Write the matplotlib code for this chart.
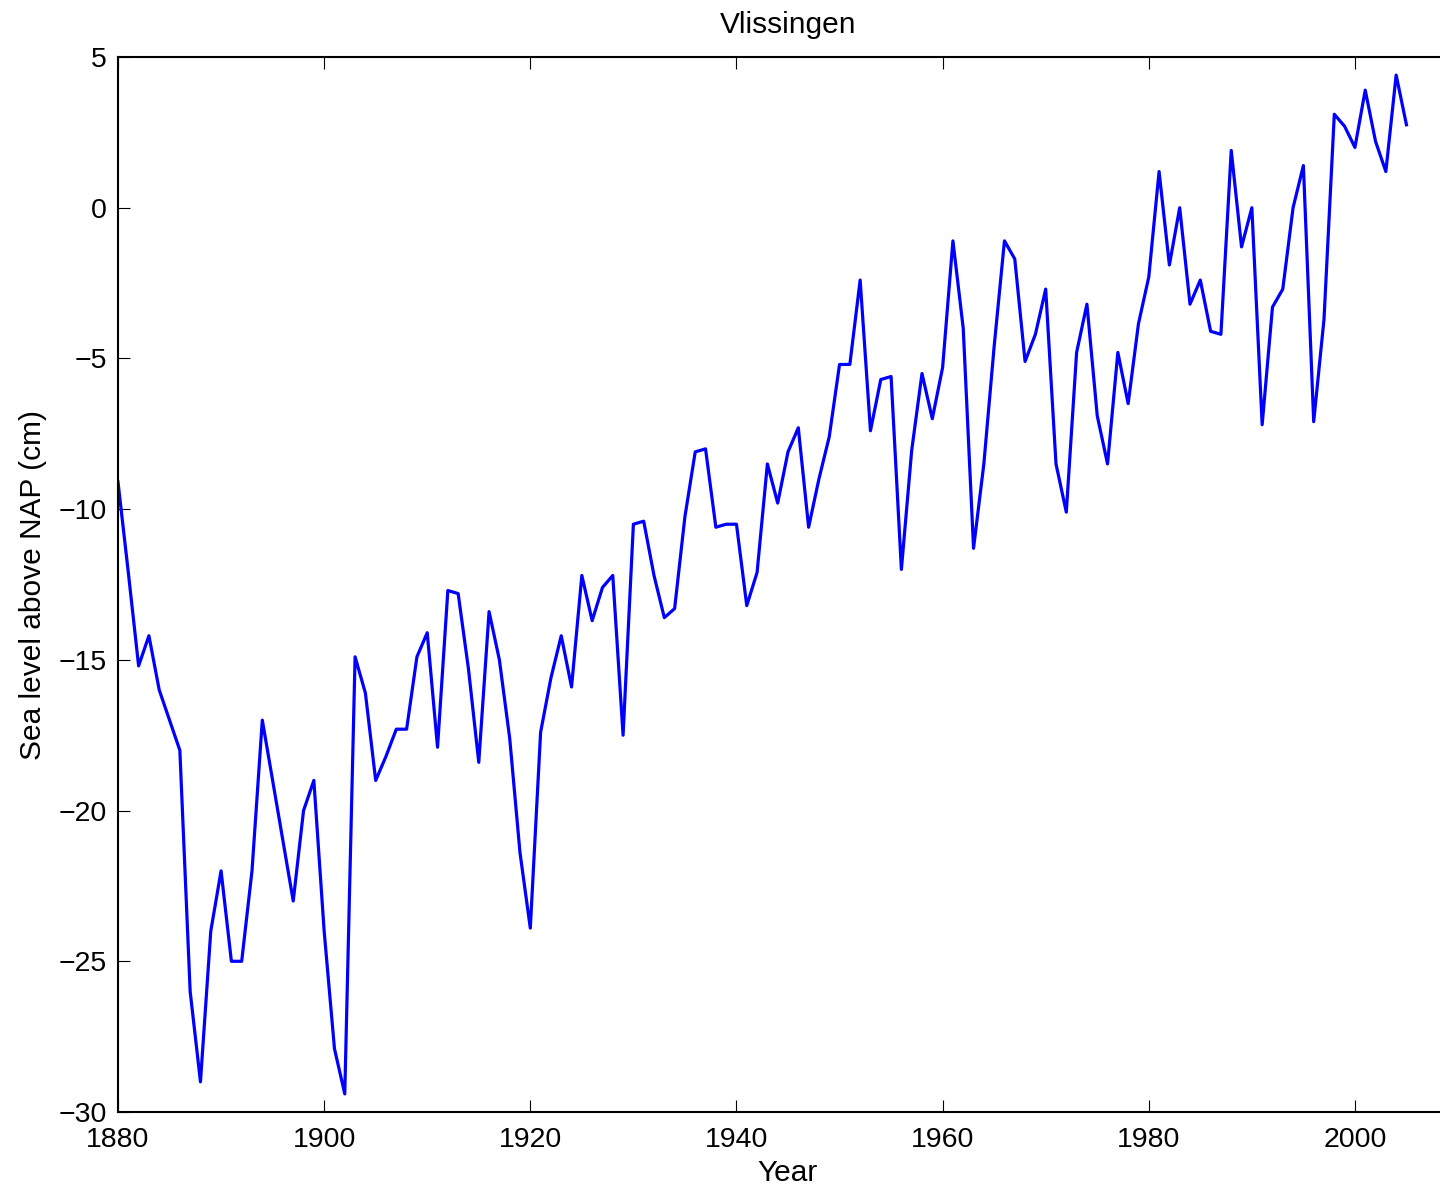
import numpy as np
import matplotlib.pyplot as plt

plt.rcParams['font.family'] = ['Liberation Sans', 'DejaVu Sans']

# 年份与海平面数据 (cm, 相对 NAP)
years = np.arange(1880, 2006)
sea_level = [
    -9.1, -12.1, -15.2, -14.2, -16.0, -17.0, -18.0, -26.0, -29.0, -24.0,   # 1880-1889
    -22.0, -25.0, -25.0, -22.0, -17.0, -19.0, -21.0, -23.0, -20.0, -19.0,  # 1890-1899
    -24.0, -27.9, -29.4, -14.9, -16.1, -19.0, -18.2, -17.3, -17.3, -14.9,  # 1900-1909
    -14.1, -17.9, -12.7, -12.8, -15.3, -18.4, -13.4, -15.0, -17.6, -21.4,  # 1910-1919
    -23.9, -17.4, -15.6, -14.2, -15.9, -12.2, -13.7, -12.6, -12.2, -17.5,  # 1920-1929
    -10.5, -10.4, -12.2, -13.6, -13.3, -10.25, -8.1, -8.0, -10.6, -10.5,   # 1930-1939
    -10.5, -13.2, -12.1, -8.5, -9.8, -8.1, -7.3, -10.6, -9.0, -7.6,        # 1940-1949
    -5.2, -5.2, -2.4, -7.4, -5.7, -5.6, -12.0, -8.05, -5.5, -7.0,          # 1950-1959
    -5.3, -1.1, -4.0, -11.3, -8.5, -4.6, -1.1, -1.7, -5.1, -4.2,           # 1960-1969
    -2.7, -8.5, -10.1, -4.8, -3.2, -6.9, -8.5, -4.8, -6.5, -3.85,          # 1970-1979
    -2.3, 1.2, -1.9, 0.0, -3.2, -2.4, -4.1, -4.2, 1.9, -1.3,               # 1980-1989
    0.0, -7.2, -3.3, -2.7, 0.0, 1.4, -7.1, -3.7, 3.1, 2.7,                 # 1990-1999
    2.0, 3.9, 2.2, 1.2, 4.4, 2.75,                                         # 2000-2005
]

xticks = [1880, 1900, 1920, 1940, 1960, 1980, 2000]
yticks = [5, 0, -5, -10, -15, -20, -25, -30]

W, H = 1440, 1189
fig = plt.figure(figsize=(W / 100, H / 100), dpi=100)
# 右边框落在图片外面，和原图一样被裁掉
ax = fig.add_axes([118 / W, 1 - 1112 / H, (1458 - 118) / W, (1112 - 57) / H])

ax.plot(years, sea_level, color='#0000ff', linewidth=2.3)

ax.set_xlim(1880, 2010)
ax.set_ylim(-30, 5)
ax.set_xticks(xticks)
ax.set_yticks(yticks)
ax.set_yticklabels([str(v).replace('-', '\u2212') for v in yticks])

ax.tick_params(direction='in', length=8.6, width=0.8, labelsize=20.5,
               top=True, right=True, colors='black')
ax.tick_params(axis='x', pad=11)
ax.tick_params(axis='y', pad=8)
for s in ax.spines.values():
    s.set_linewidth(1.5)

ax.set_xlabel('Year', fontsize=21.5, labelpad=4)
ax.set_ylabel('Sea level above NAP (cm)', fontsize=21.5, labelpad=8)
ax.set_title('Vlissingen', fontsize=21.5, pad=17)

fig.savefig('out.png', dpi=100)
